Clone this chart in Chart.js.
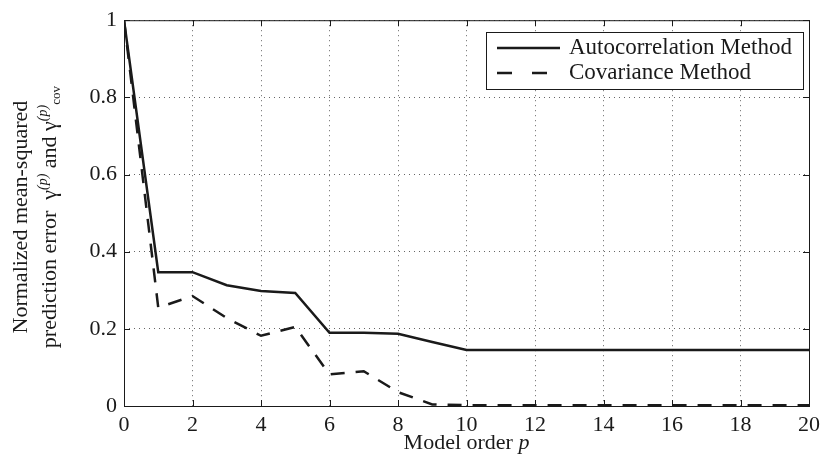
<!DOCTYPE html>
<html>
<head>
<meta charset="utf-8">
<script src="https://cdn.jsdelivr.net/npm/chart.js@4/dist/chart.umd.min.js"></script>
<style>
  html, body { margin: 0; padding: 0; background: #fff; }
  #wrap { width: 826px; height: 460px; }
</style>
</head>
<body>
<div id="wrap"><canvas id="chart"></canvas></div>
<script>
// model order p = 0..20
const modelOrder = [0, 1, 2, 3, 4, 5, 6, 7, 8, 9, 10, 11, 12, 13, 14, 15, 16, 17, 18, 19, 20];
const autoErr = [1.0, 0.347, 0.347, 0.313, 0.298, 0.293, 0.19, 0.19, 0.187, 0.166, 0.145,
  0.145, 0.145, 0.145, 0.145, 0.145, 0.145, 0.145, 0.145, 0.145, 0.145];
const covErr = [1.0, 0.255, 0.285, 0.228, 0.182, 0.205, 0.082, 0.09, 0.036, 0.004, 0.002,
  0.002, 0.002, 0.002, 0.002, 0.002, 0.002, 0.002, 0.002, 0.002, 0.002];
const seriesNames = ["Autocorrelation Method", "Covariance Method"];
const xTicks = [0, 2, 4, 6, 8, 10, 12, 14, 16, 18, 20];
const yTicks = [0, 0.2, 0.4, 0.6, 0.8, 1];
const yTickLabels = ["0", "0.2", "0.4", "0.6", "0.8", "1"];

const serif = "'Liberation Serif', 'Times New Roman', serif";
const ink = "#1a1a1a";

const toPoints = (ys) => modelOrder.map((p, i) => ({ x: p, y: ys[i] }));

// draws a run of text pieces (for super/subscripts) centred on 0,0
const drawRich = (ctx, parts) => {
  let total = 0;
  parts.forEach((s) => {
    ctx.font = `${s.italic ? "italic " : ""}${s.size}px ${serif}`;
    s.w = ctx.measureText(s.t).width;
    total += s.w;
  });
  let x = -total / 2;
  parts.forEach((s) => {
    ctx.font = `${s.italic ? "italic " : ""}${s.size}px ${serif}`;
    ctx.fillText(s.t, x, s.dy || 0);
    x += s.w;
  });
};

const framePlugin = {
  id: "frame",
  afterDatasetsDraw(chart) {
    const { ctx, chartArea: a, scales } = chart;
    ctx.save();
    ctx.strokeStyle = ink;
    ctx.lineWidth = 1;
    ctx.strokeRect(a.left + 0.5, a.top + 0.5, a.right - a.left, a.bottom - a.top);
    ctx.beginPath();
    xTicks.forEach((v) => {
      const px = Math.round(scales.x.getPixelForValue(v)) + 0.5;
      ctx.moveTo(px, a.bottom); ctx.lineTo(px, a.bottom - 6);
      ctx.moveTo(px, a.top); ctx.lineTo(px, a.top + 6);
    });
    yTicks.forEach((v) => {
      const py = Math.round(scales.y.getPixelForValue(v)) + 0.5;
      ctx.moveTo(a.left, py); ctx.lineTo(a.left + 6, py);
      ctx.moveTo(a.right, py); ctx.lineTo(a.right - 6, py);
    });
    ctx.stroke();

    // legend box in the upper right corner
    const lx = 486, ly = 32, lw = 317, lh = 57;
    ctx.fillStyle = "#fff";
    ctx.fillRect(lx, ly, lw, lh);
    ctx.strokeRect(lx + 0.5, ly + 0.5, lw, lh);
    chart.data.datasets.forEach((ds, i) => {
      const y = ly + 16 + i * 25;
      ctx.beginPath();
      ctx.lineWidth = ds.borderWidth;
      ctx.setLineDash(ds.borderDash ? [15, 20] : []);
      ctx.moveTo(lx + 11, y);
      ctx.lineTo(lx + (ds.borderDash ? 61 : 74), y);
      ctx.stroke();
      ctx.setLineDash([]);
      ctx.fillStyle = ink;
      ctx.font = `23px ${serif}`;
      ctx.textBaseline = "middle";
      ctx.textAlign = "left";
      ctx.fillText(ds.label, lx + 83, y);
    });

    // axis titles
    ctx.fillStyle = ink;
    ctx.textBaseline = "middle";
    ctx.textAlign = "left";
    ctx.save();
    ctx.translate((a.left + a.right) / 2, 443);
    drawRich(ctx, [
      { t: "Model order ", size: 22 },
      { t: "p", size: 22, italic: true },
    ]);
    ctx.restore();

    const cy = (a.top + a.bottom) / 2 + 4;
    ctx.save();
    ctx.translate(21, cy);
    ctx.rotate(-Math.PI / 2);
    drawRich(ctx, [{ t: "Normalized mean-squared", size: 22 }]);
    ctx.restore();
    ctx.save();
    ctx.translate(50, cy);
    ctx.rotate(-Math.PI / 2);
    drawRich(ctx, [
      { t: "prediction error  \u03b3", size: 22 },
      { t: "(p)", size: 14, dy: -7, italic: true },
      { t: " and \u03b3", size: 22 },
      { t: "(p)", size: 14, dy: -7, italic: true },
      { t: "cov", size: 13, dy: 7 },
    ]);
    ctx.restore();
    ctx.restore();
  },
};

new Chart(document.querySelector("#chart"), {
  type: "line",
  data: {
    datasets: [
      {
        label: seriesNames[0],
        data: toPoints(autoErr),
        borderColor: ink,
        borderWidth: 2.5,
        pointRadius: 0,
        tension: 0,
      },
      {
        label: seriesNames[1],
        data: toPoints(covErr),
        borderColor: ink,
        borderWidth: 2.5,
        borderDash: [14, 11],
        pointRadius: 0,
        tension: 0,
      },
    ],
  },
  options: {
    responsive: true,
    maintainAspectRatio: false,
    animation: false,
    layout: { padding: { left: 0, right: 13, top: 20, bottom: 0 } },
    plugins: { legend: { display: false }, tooltip: { enabled: false } },
    scales: {
      x: {
        type: "linear",
        min: 0,
        max: 20,
        afterBuildTicks: (scale) => { scale.ticks = xTicks.map((v) => ({ value: v })); },
        afterFit: (scale) => { scale.height = 54; },
        grid: { color: "#666", lineWidth: 1, drawTicks: false },
        border: { display: false, dash: [1, 4] },
        ticks: { color: ink, padding: 6, font: { family: serif, size: 22 } },
      },
      y: {
        min: 0,
        max: 1,
        afterBuildTicks: (scale) => { scale.ticks = yTicks.map((v) => ({ value: v })); },
        afterFit: (scale) => { scale.width = 124; },
        grid: { color: "#666", lineWidth: 1, drawTicks: false },
        border: { display: false, dash: [1, 4] },
        ticks: {
          color: ink,
          padding: 7,
          font: { family: serif, size: 22 },
          callback: (value, index) => yTickLabels[index],
        },
      },
    },
  },
  plugins: [framePlugin],
});
</script>
</body>
</html>
